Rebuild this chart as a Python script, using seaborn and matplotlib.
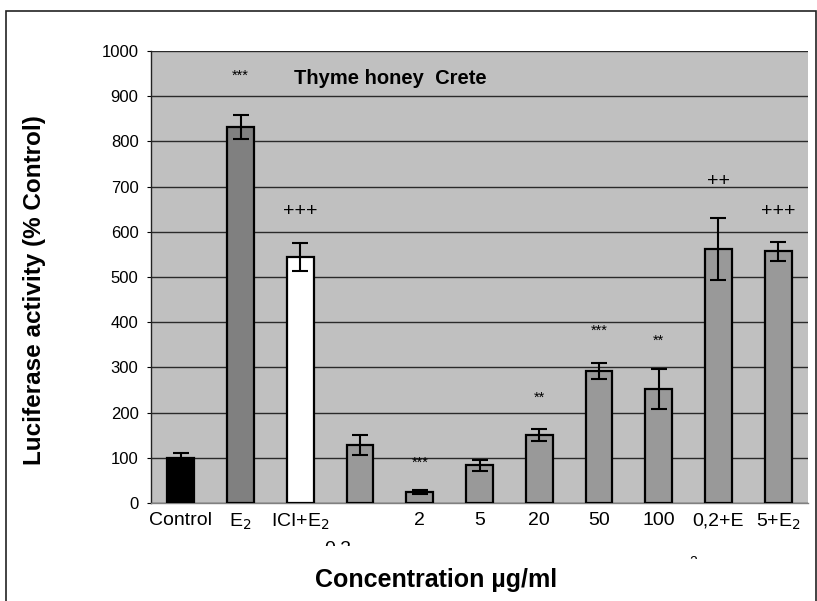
import matplotlib
matplotlib.use("Agg")
import matplotlib.pyplot as plt
import seaborn as sns
import pandas as pd
import numpy as np
from matplotlib.patches import Rectangle

categories = ["Control", "E2", "ICI+E2", "0,2", "2", "5", "20", "50", "100", "0,2+E2", "5+E2"]
tick_labels = ["Control", "E$_2$", "ICI+E$_2$", "", "2", "5", "20", "50", "100", "0,2+E", "5+E$_2$"]
values = [100, 832, 544, 128, 25, 83, 150, 292, 252, 562, 557]
errors = [10, 27, 31, 22, 4, 12, 13, 17, 44, 69, 21]
marks = ["", "***", "+++", "", "***", "", "**", "***", "**", "++", "+++"]
mark_y = [0, 945, 645, 0, 90, 0, 232, 380, 358, 712, 645]
bar_colors = ["#000000", "#808080", "#ffffff", "#999999", "#999999", "#999999",
              "#999999", "#999999", "#999999", "#999999", "#999999"]

sns.set_style("white")
plt.rcParams["font.family"] = ["Liberation Sans", "DejaVu Sans"]
plt.rcParams["text.color"] = "black"
plt.rcParams["axes.labelcolor"] = "black"
plt.rcParams["xtick.color"] = "black"
plt.rcParams["ytick.color"] = "black"

df = pd.DataFrame({"cat": categories, "val": values})

fig = plt.figure(figsize=(8.17, 6.01), dpi=100)
ax = fig.add_axes([151/817, 1-503/601, (808-151)/817, (503-51)/601])
ax.set_facecolor("#c0c0c0")

sns.barplot(data=df, x="cat", y="val", hue="cat", palette=bar_colors, legend=False,
            width=0.45, edgecolor="black", linewidth=1.6, ax=ax, zorder=3)
ax.errorbar(np.arange(len(categories)), values, yerr=errors, fmt="none",
            ecolor="black", elinewidth=1.5, capsize=6, capthick=1.5, zorder=4)

ax.set_ylim(0, 1000)
ax.set_xlim(-0.5, len(categories) - 0.5)
ax.set_yticks(np.arange(0, 1001, 100))
ax.yaxis.grid(True, color="#2a2a2a", linewidth=1.0, zorder=1)
ax.set_axisbelow(True)
ax.tick_params(axis="y", labelsize=12, length=3, width=0.8, left=True, pad=6)
ax.tick_params(axis="x", labelsize=14, length=0, pad=6.5)
ax.set_xticks(np.arange(len(categories)))
ax.set_xticklabels(tick_labels)

for s in ["top", "right"]:
    ax.spines[s].set_visible(False)
ax.spines["left"].set_color("#222222")
ax.spines["left"].set_linewidth(1.0)
ax.spines["bottom"].set_color("#808080")
ax.spines["bottom"].set_linewidth(1.0)

for i, (m, y) in enumerate(zip(marks, mark_y)):
    if m:
        fs = 10.5 if "*" in m else 14
        ax.text(i, y, m, ha="center", va="center", fontsize=fs, zorder=5)

ax.text((390-151)/657, 0.94, "Thyme honey  Crete", transform=ax.transAxes,
        ha="center", va="center", fontsize=14.5, fontweight="bold")

ax.set_ylabel("")
ax.set_xlabel("")
fig.text(35/817, 1-290/601, "Luciferase activity (% Control)", rotation=90,
         ha="center", va="center", fontsize=17.5, fontweight="bold")
fig.text(436/817, 1-580/601, "Concentration µg/ml", ha="center", va="center",
         fontsize=18, fontweight="bold")

# partially hidden wrapped label fragments
t1 = fig.text(338/817, 1-540/601, "0,2", ha="center", va="top", fontsize=14)
clip1 = Rectangle((0, 1-546/601), 1, 8/601, transform=fig.transFigure)
t1.set_clip_path(clip1)
t1.set_clip_on(True)
t2 = fig.text(693/817, 1-555/601, "2", ha="center", va="top", fontsize=10)
clip2 = Rectangle((0, 1-559/601), 1, 6/601, transform=fig.transFigure)
t2.set_clip_path(clip2)
t2.set_clip_on(True)

# figure frame
frame = Rectangle((6/817, -0.05), 810/817, 1.05 - 11/601, transform=fig.transFigure,
                  fill=False, edgecolor="#222222", linewidth=1.2)
fig.patches.append(frame)

fig.savefig("out.png", dpi=100, facecolor="white")
